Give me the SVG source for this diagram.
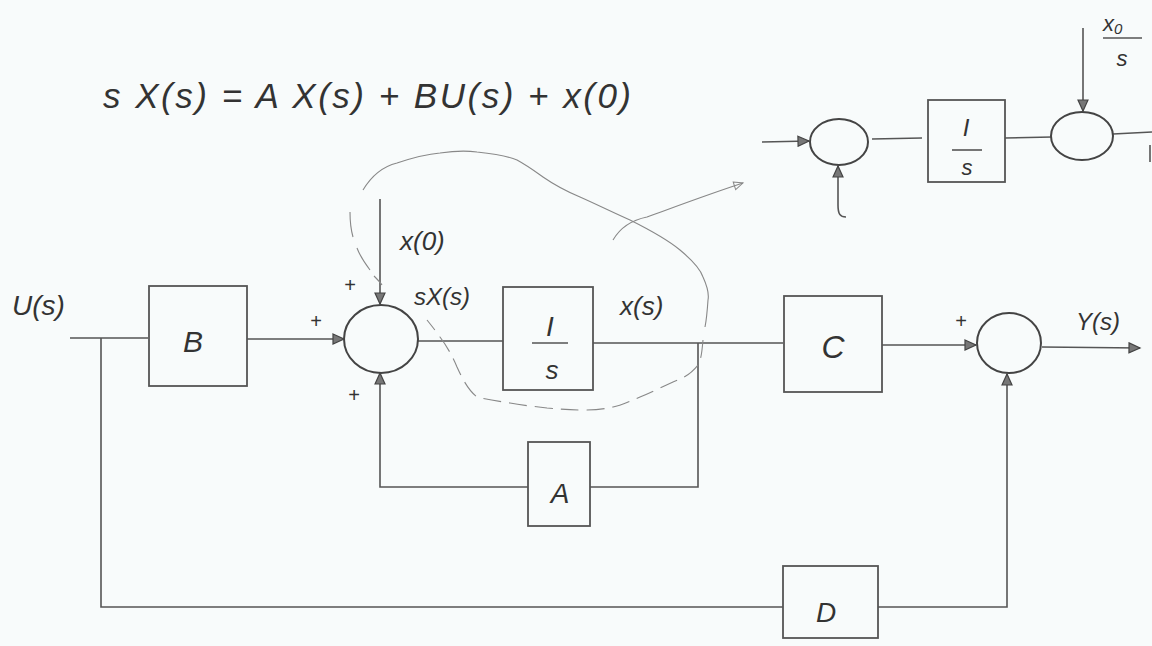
<svg xmlns="http://www.w3.org/2000/svg" width="1152" height="646" viewBox="0 0 1152 646">
<style>
.ln{stroke:#555;stroke-width:1.6;fill:none}
.bx{stroke:#555;stroke-width:1.8;fill:none}
.sum{stroke:#444;stroke-width:2;fill:none}
.t{font-family:"Liberation Sans",Arial,sans-serif;font-style:italic;fill:#333}
.c{text-anchor:middle}
.pen{stroke:#888;stroke-width:1.1;fill:none}
</style>
<defs>
<marker id="ah" markerWidth="14" markerHeight="12" refX="12" refY="6" orient="auto" markerUnits="userSpaceOnUse">
<path d="M1,1 L12,6 L1,11 Z" fill="#777" stroke="#444" stroke-width="1.2"/>
</marker>
<marker id="ah2" markerWidth="12" markerHeight="10" refX="10" refY="5" orient="auto" markerUnits="userSpaceOnUse">
<path d="M1,1 L10,5 L1,9 Z" fill="none" stroke="#888" stroke-width="1"/>
</marker>
</defs>
<rect width="1152" height="646" fill="#f8fbfb"/>

<g id="equation">
<text class="t" x="103" y="108" font-size="35" textLength="528" lengthAdjust="spacing">s X(s) = A X(s) + BU(s) + x(0)</text>
</g>

<g id="connectors">
<path class="ln" d="M70,338 L148,338"/>
<path class="ln" d="M101,338 L101,607 L783,607"/>
<path class="ln" d="M247,339 L344,339" marker-end="url(#ah)"/>
<path class="ln" d="M380,199 L380,304" marker-end="url(#ah)"/>
<path class="ln" d="M418,341 L503,341"/>
<path class="ln" d="M593,343 L783,343"/>
<path class="ln" d="M698,343 L698,487 L590,487"/>
<path class="ln" d="M528,487 L380,487 L380,373" marker-end="url(#ah)"/>
<path class="ln" d="M882,345 L976,345" marker-end="url(#ah)"/>
<path class="ln" d="M1042,347 L1140,348" marker-end="url(#ah)"/>
<path class="ln" d="M878,607 L1007,607 L1007,374" marker-end="url(#ah)"/>
<path class="ln" d="M762,142 L809,141" marker-end="url(#ah)"/>
<path class="ln" d="M846,217 C840,217 838,214 838,205 L838,166" marker-end="url(#ah)"/>
<path class="ln" d="M872,139 L922,138"/>
<path class="ln" d="M1005,138 L1052,137"/>
<path class="ln" d="M1083,28 L1083,111" marker-end="url(#ah)"/>
<path class="ln" d="M1113,134 L1152,132"/>
<path class="ln" d="M1150,145 L1150,162"/>
<path class="pen" d="M363,190 C372,175 385,166 397,163 C412,158 428,154 440,153 C460,150 470,151 477,152 C495,154 508,156 517,160 C528,166 536,172 543,177 C556,186 568,192 580,197 C598,205 612,212 630,220 C650,230 668,240 680,250 C692,260 700,268 703,277 C708,288 709,295 708,300 C707,315 706,322 705,327"/>
<path class="pen" d="M350,212 C350,220 351,230 353,237 M357,248 C360,256 364,262 370,270 M374,276 C378,280 380,282 382,285"/>
<path class="pen" stroke-dasharray="18,8" d="M703,340 C702,352 701,360 698,365 C690,375 683,378 673,382 C660,388 650,393 640,397 C628,402 620,406 613,407 C600,410 592,410 583,410 C570,410 560,409 547,408 C530,406 520,405 510,403 C496,401 485,399 477,397 C468,390 462,378 457,367 C452,355 446,345 440,337 C435,330 431,325 427,320"/>
<path class="pen" d="M613,240 C620,228 632,220 647,217 C680,205 712,193 743,183" marker-end="url(#ah2)"/>
</g>

<g id="label-U">
<text class="t" x="12" y="315" font-size="28">U(s)</text>
</g>

<g id="node-B">
<rect class="bx" x="149" y="286" width="98" height="100"/>
<text class="t c" x="193" y="352" font-size="30">B</text>
</g>

<g id="node-sum1">
<ellipse class="sum" cx="381" cy="339" rx="37" ry="34"/>
<text class="t" x="310" y="328" font-size="20">+</text>
<text class="t" x="344" y="292" font-size="20">+</text>
<text class="t" x="348" y="402" font-size="20">+</text>
<text class="t" x="400" y="250" font-size="26">x(0)</text>
<text class="t" x="414" y="305" font-size="24">sX(s)</text>
</g>

<g id="node-integrator">
<rect class="bx" x="503" y="287" width="90" height="103"/>
<text class="t c" x="550" y="336" font-size="28">I</text>
<line class="ln" x1="532" y1="343" x2="568" y2="343" stroke-width="2"/>
<text class="t c" x="552" y="379" font-size="26">s</text>
<text class="t" x="620" y="315" font-size="26">x(s)</text>
</g>

<g id="node-A">
<rect class="bx" x="528" y="442" width="62" height="84"/>
<text class="t c" x="560" y="503" font-size="28">A</text>
</g>

<g id="node-C">
<rect class="bx" x="784" y="296" width="98" height="96"/>
<text class="t c" x="833" y="358" font-size="32">C</text>
</g>

<g id="node-sum2">
<ellipse class="sum" cx="1009" cy="343" rx="32" ry="30"/>
<text class="t" x="955" y="328" font-size="20">+</text>
<text class="t" x="1076" y="330" font-size="24">Y(s)</text>
</g>

<g id="node-D">
<rect class="bx" x="783" y="566" width="95" height="72"/>
<text class="t c" x="826" y="622" font-size="28">D</text>
</g>

<g id="node-sum3">
<ellipse class="sum" cx="839" cy="142" rx="29" ry="23"/>
</g>

<g id="node-integrator2">
<rect class="bx" x="928" y="100" width="77" height="82"/>
<text class="t c" x="966" y="136" font-size="24">I</text>
<line class="ln" x1="952" y1="150" x2="982" y2="150" stroke-width="2"/>
<text class="t c" x="967" y="175" font-size="22">s</text>
</g>

<g id="node-sum4">
<ellipse class="sum" cx="1082" cy="136" rx="31" ry="24"/>
<text class="t" x="1103" y="31" font-size="22">x<tspan font-size="15" dy="3">0</tspan></text>
<line class="ln" x1="1103" y1="38" x2="1142" y2="38"/>
<text class="t c" x="1122" y="66" font-size="22">s</text>
</g>
</svg>
